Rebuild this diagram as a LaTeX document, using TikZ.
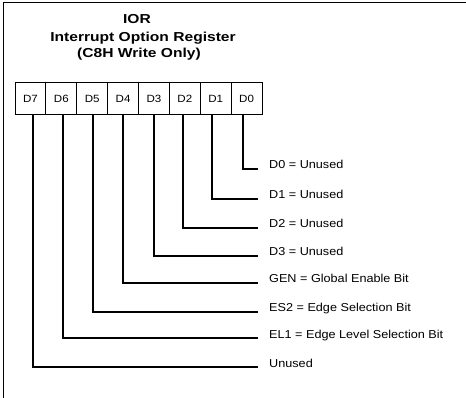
\documentclass[tikz,border=0pt]{standalone}
\usepackage{fontspec}
\setmainfont{Liberation Sans}
\newfontfamily\titlefont[FakeStretch=1.2]{Liberation Sans}
\newfontfamily\labfont[FakeStretch=1.1]{Liberation Sans}
\begin{document}
\begin{tikzpicture}[x=1pt,y=-1pt,
  bitbox/.style={draw,line width=1pt,minimum width=30.875pt,minimum height=32pt,inner sep=0pt,font=\labfont\fontsize{10.5}{12}\selectfont},
  ttl/.style={anchor=base,inner sep=0pt,font=\titlefont\bfseries\fontsize{13}{15}\selectfont},
  desc/.style={anchor=base west,inner sep=0pt,font=\labfont\fontsize{11.5}{13}\selectfont},
  conn/.style={line width=1.4pt},
  frame/.style={line width=1pt}]
\useasboundingbox (0,0) rectangle (466,398);
\coordinate (fbl) at (3,398);
\coordinate (ftl) at (3,3);
\coordinate (ftr) at (466,3);
\draw[frame] (fbl) -- (ftl) -- (ftr);
\node[ttl] (t1) at (137,24) {IOR};
\node[ttl] (t2) at (143,42) {Interrupt Option Register};
\node[ttl] (t3) at (139,58) {(C8H Write Only)};
\foreach \i/\n in {0/7,1/6,2/5,3/4,4/3,5/2,6/1,7/0}
  \node[bitbox] (b\n) at ({15+30.875*(\i+0.5)},99) {D\n};
\foreach \n/\y/\dx/\t in {0/169/-3.6/{D0 = Unused},1/199/-3.7/{D1 = Unused},2/228/-1.8/{D2 = Unused},3/256/0/{D3 = Unused},4/283/0/{GEN = Global Enable Bit},5/312/0.8/{ES2 = Edge Selection Bit},6/338/1.7/{EL1 = Edge Level Selection Bit},7/367/2.6/{Unused}}
{
  \node[desc] (l\n) at (269,\y) {\t};
  \draw[conn] ([xshift=\dx pt]b\n.south) |- ([xshift=-11pt]l\n.base west);
}
\end{tikzpicture}
\end{document}
